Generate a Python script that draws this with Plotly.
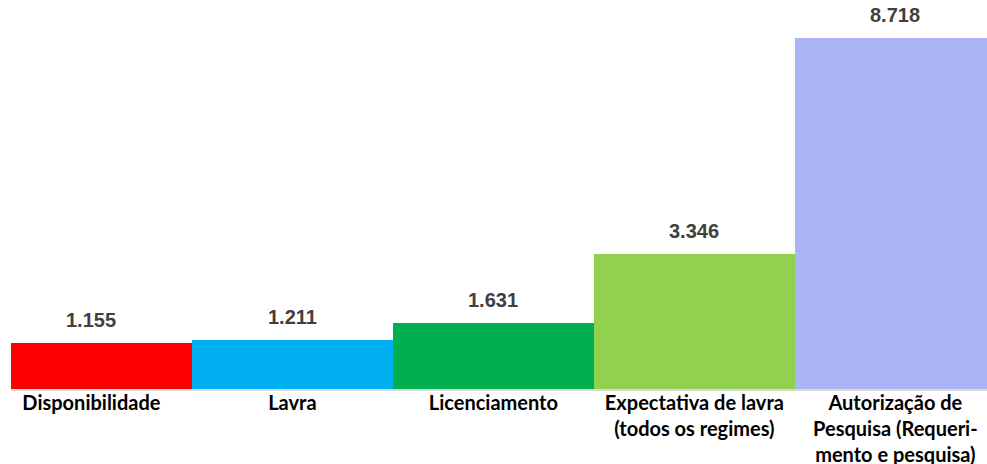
import plotly.graph_objects as go

categories = [
    "Disponibilidade",
    "Lavra",
    "Licenciamento",
    "Expectativa de lavra<br>(todos os regimes)",
    "Autorização de<br>Pesquisa (Requeri-<br>mento e pesquisa)",
]
values = [1.155, 1.211, 1.631, 3.346, 8.718]
value_labels = ["1.155", "1.211", "1.631", "3.346", "8.718"]
colors = ["#FF0000", "#00B0F0", "#00B050", "#92D050", "#AAB4F6"]

xs = list(range(len(categories)))

fig = go.Figure(
    go.Bar(
        x=xs,
        y=values,
        marker=dict(color=colors, line=dict(width=0)),
        width=1,
        hoverinfo="skip",
    )
)

for xi, v, lab in zip(xs, values, value_labels):
    fig.add_annotation(
        x=xi,
        y=v,
        text="<b>%s</b>" % lab,
        showarrow=False,
        xanchor="center",
        yanchor="bottom",
        yshift=10,
        font=dict(family="Liberation Sans, Arial", size=20, color="#404040"),
    )

fig.update_layout(
    width=987,
    height=464,
    margin=dict(l=11, r=0, t=0, b=75),
    paper_bgcolor="white",
    plot_bgcolor="white",
    showlegend=False,
    bargap=0,
    xaxis=dict(
        tickmode="array",
        tickvals=xs,
        ticktext=["<b>%s</b>" % c for c in categories],
        range=[-0.4, 4.456],
        automargin=False,
        showgrid=False,
        zeroline=False,
        showline=True,
        linecolor="#D9D9D9",
        linewidth=2,
        ticks="",
        tickangle=0,
        ticklabelstandoff=-5,
        tickfont=dict(family="Lato, Carlito, Calibri", size=20, color="#000000"),
    ),
    yaxis=dict(
        range=[0, 9.662],
        visible=False,
        automargin=False,
        showgrid=False,
        zeroline=False,
    ),
)

fig.write_html(
    "out.html",
    config={"displayModeBar": False},
    post_script="document.body.style.margin='0';",
)
